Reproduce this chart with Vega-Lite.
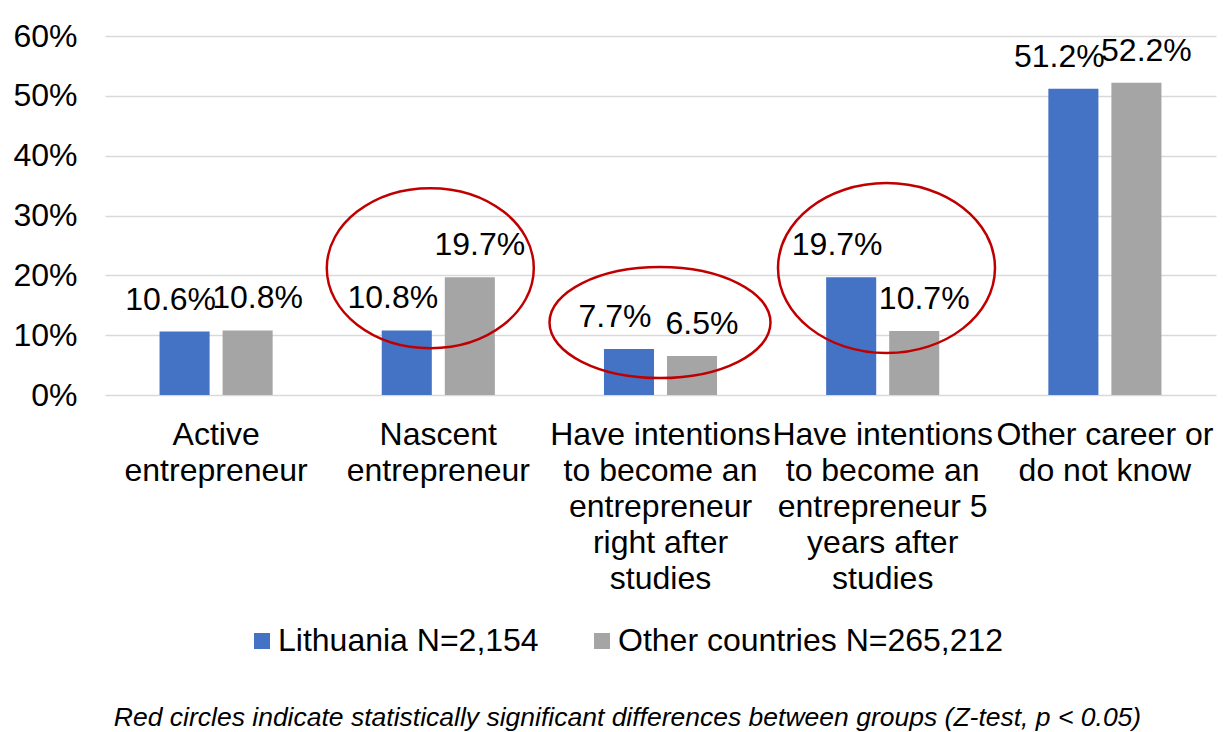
{
  "$schema": "https://vega.github.io/schema/vega-lite/v6.json",
  "width": 1111,
  "height": 359,
  "autosize": {"type": "none"},
  "padding": {"left": 105, "top": 36, "right": 7, "bottom": 337},
  "background": "white",
  "config": {
    "view": {"stroke": null},
    "font": "Liberation Sans",
    "text": {"font": "Liberation Sans"}
  },
  "title": {
    "text": "Red circles indicate statistically significant differences between groups (Z-test, p < 0.05)",
    "orient": "bottom",
    "anchor": "middle",
    "fontSize": 26.5,
    "fontStyle": "italic",
    "fontWeight": "normal",
    "font": "Liberation Sans",
    "color": "black",
    "offset": 48,
    "dx": -33
  },
  "data": {
    "values": [
      {"category": "Active entrepreneur", "group": "Lithuania N=2,154", "value": 0.106, "significant": false},
      {"category": "Active entrepreneur", "group": "Other countries N=265,212", "value": 0.108, "significant": false},
      {"category": "Nascent entrepreneur", "group": "Lithuania N=2,154", "value": 0.108, "significant": true},
      {"category": "Nascent entrepreneur", "group": "Other countries N=265,212", "value": 0.197, "significant": true},
      {"category": "Have intentions to become an entrepreneur right after studies", "group": "Lithuania N=2,154", "value": 0.077, "significant": true},
      {"category": "Have intentions to become an entrepreneur right after studies", "group": "Other countries N=265,212", "value": 0.065, "significant": true},
      {"category": "Have intentions to become an entrepreneur 5 years after studies", "group": "Lithuania N=2,154", "value": 0.197, "significant": true},
      {"category": "Have intentions to become an entrepreneur 5 years after studies", "group": "Other countries N=265,212", "value": 0.107, "significant": true},
      {"category": "Other career or do not know", "group": "Lithuania N=2,154", "value": 0.512, "significant": false},
      {"category": "Other career or do not know", "group": "Other countries N=265,212", "value": 0.522, "significant": false}
    ]
  },
  "layer": [
    {
      "mark": {"type": "bar"},
      "encoding": {
        "x": {
          "field": "category", "type": "nominal", "sort": null,
          "scale": {"paddingInner": 0.491, "paddingOuter": 0.2455},
          "axis": {
            "title": null, "labelAngle": 0, "labelFontSize": 32, "labelLineHeight": 36,
            "labelColor": "black", "labelFont": "Liberation Sans", "labelBaseline": "top",
            "labelPadding": 24, "ticks": false, "domain": false, "labelLimit": 400,
            "labelOverlap": false, "labelBound": false,
            "labelExpr": "datum.value == 'Active entrepreneur' ? ['Active','entrepreneur'] : datum.value == 'Nascent entrepreneur' ? ['Nascent','entrepreneur'] : datum.value == 'Have intentions to become an entrepreneur right after studies' ? ['Have intentions','to become an','entrepreneur','right after','studies'] : datum.value == 'Have intentions to become an entrepreneur 5 years after studies' ? ['Have intentions','to become an','entrepreneur 5','years after','studies'] : ['Other career or','do not know']"
          }
        },
        "xOffset": {"field": "group", "type": "nominal", "scale": {"paddingInner": 0.206}},
        "y": {
          "field": "value", "type": "quantitative",
          "scale": {"domain": [0, 0.6], "nice": false},
          "axis": {
            "title": null, "values": [0, 0.1, 0.2, 0.3, 0.4, 0.5, 0.6], "format": ".0%",
            "labelFontSize": 32, "labelColor": "black", "labelFont": "Liberation Sans",
            "labelPadding": 28, "ticks": false, "domain": false,
            "grid": true, "gridColor": "#D9D9D9", "gridWidth": 1.3
          }
        },
        "color": {
          "field": "group", "type": "nominal",
          "scale": {"range": ["#4472C4", "#A5A5A5"]},
          "legend": {
            "title": null, "orient": "none", "direction": "horizontal", "columns": 2,
            "legendX": 141, "legendY": 589, "padding": 0,
            "symbolType": "square", "symbolSize": 256, "symbolStrokeWidth": 0,
            "labelFontSize": 32, "labelColor": "black", "labelFont": "Liberation Sans",
            "labelOffset": 0, "columnPadding": 47, "labelLimit": 500
          }
        }
      }
    },
    {
      "transform": [{"filter": "datum.group == 'Lithuania N=2,154'"}],
      "mark": {"type": "text", "fontSize": 32, "color": "black", "baseline": "alphabetic", "dy": -22, "dx": -14},
      "encoding": {
        "x": {"field": "category", "type": "nominal", "sort": null},
        "xOffset": {"field": "group", "type": "nominal"},
        "y": {"field": "value", "type": "quantitative"},
        "text": {"field": "value", "type": "quantitative", "format": ".1%"}
      }
    },
    {
      "transform": [{"filter": "datum.group == 'Other countries N=265,212'"}],
      "mark": {"type": "text", "fontSize": 32, "color": "black", "baseline": "alphabetic", "dy": -22, "dx": 10},
      "encoding": {
        "x": {"field": "category", "type": "nominal", "sort": null},
        "xOffset": {"field": "group", "type": "nominal"},
        "y": {"field": "value", "type": "quantitative"},
        "text": {"field": "value", "type": "quantitative", "format": ".1%"}
      }
    },
    {
      "transform": [
        {"filter": "datum.significant"},
        {"aggregate": [{"op": "max", "field": "value", "as": "value"}], "groupby": ["category"]}
      ],
      "mark": {"type": "point", "filled": false, "stroke": "#C00000", "strokeWidth": 2.5, "size": 4, "opacity": 1, "strokeOpacity": 1},
      "encoding": {
        "x": {"field": "category", "type": "nominal", "sort": null},
        "y": {"field": "value", "type": "quantitative"},
        "shape": {
          "field": "category", "type": "nominal", "legend": null,
          "scale": {
            "domain": ["Nascent entrepreneur", "Have intentions to become an entrepreneur right after studies", "Have intentions to become an entrepreneur 5 years after studies"],
            "range": [
              "M -111.5 -9 A 103.5 80 0 1 0 95.5 -9 A 103.5 80 0 1 0 -111.5 -9 Z",
              "M -111 -26.4 A 110.5 55.5 0 1 0 110 -26.4 A 110.5 55.5 0 1 0 -111 -26.4 Z",
              "M -104.7 -9.1 A 108.5 85 0 1 0 112.3 -9.1 A 108.5 85 0 1 0 -104.7 -9.1 Z"
            ]
          }
        }
      }
    }
  ]
}
